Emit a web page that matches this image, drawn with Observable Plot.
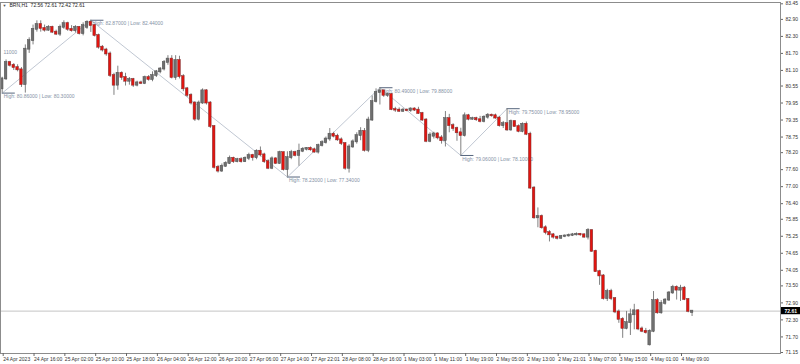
<!DOCTYPE html>
<html><head><meta charset="utf-8">
<script src="https://cdn.jsdelivr.net/npm/d3@7"></script>
<script src="https://cdn.jsdelivr.net/npm/@observablehq/plot@0.6"></script>
<style>
html,body{margin:0;padding:0;background:#fff;}
#chart svg{display:block;}
</style></head><body><div id="chart"></div>
<script>
// ---- data ----
const symbolTitle = "BRN,H1";
const lastBarOHLC = [72.56, 72.61, 72.42, 72.61];

const opens = [80.45,80.80,81.38,81.28,81.20,81.12,80.60,81.85,82.15,82.55,82.72,82.58,82.52,82.62,82.45,82.38,82.62,82.75,82.55,82.50,82.62,82.40,82.62,82.80,82.68,82.33,81.92,81.82,81.68,80.92,80.58,81.00,80.85,80.72,80.78,80.58,80.66,80.64,80.85,80.78,80.92,81.05,81.15,81.38,81.50,80.85,81.45,80.88,80.45,80.22,79.95,79.38,79.95,80.38,79.95,79.12,77.68,77.55,77.72,77.82,78.00,77.88,77.95,77.88,78.00,78.10,78.02,78.25,78.12,77.88,77.65,77.98,77.82,78.20,77.60,78.02,78.20,78.10,78.25,78.32,78.35,78.30,78.22,78.45,78.55,78.68,78.85,78.78,78.65,78.52,77.65,78.40,78.58,78.80,78.95,78.28,79.35,80.00,80.32,80.38,80.22,80.25,79.72,79.70,79.66,79.70,79.68,79.74,79.70,79.58,79.35,78.60,78.78,78.86,78.72,78.62,79.40,79.15,79.05,78.90,78.80,79.50,79.38,79.40,79.36,79.30,79.45,79.52,79.50,79.42,79.15,79.22,79.00,79.30,79.12,78.95,79.20,78.85,76.95,75.90,75.95,75.55,75.38,75.30,75.22,75.18,75.24,75.26,75.28,75.30,75.32,75.30,75.22,75.45,74.72,74.00,73.85,73.05,73.30,73.05,72.58,72.32,72.00,72.20,72.48,72.62,71.98,71.90,71.42,71.90,72.98,72.55,72.88,73.00,73.25,73.45,73.35,73.42,73.02,72.56];
const highs = [80.86,81.47,81.42,81.34,81.30,81.20,82.00,82.25,82.70,82.85,82.85,82.70,82.68,82.66,82.52,82.70,82.85,82.80,82.68,82.68,82.65,82.78,82.85,82.87,82.72,82.38,81.98,81.88,81.75,81.00,81.25,81.05,81.00,80.85,80.82,80.72,80.72,80.90,80.92,81.05,81.10,81.20,81.45,81.62,81.62,81.62,81.60,80.95,80.50,80.28,80.00,80.02,80.45,80.42,80.00,79.15,77.75,77.80,77.88,78.08,78.04,78.00,78.02,78.05,78.18,78.14,78.30,78.40,78.18,77.95,78.05,78.02,78.25,78.22,78.23,78.28,78.25,78.50,78.38,78.38,78.40,78.36,78.50,78.62,78.75,79.05,78.92,78.85,78.72,78.55,78.48,78.65,78.90,79.08,79.05,79.45,80.20,80.45,80.49,80.40,80.30,80.28,79.80,79.78,79.76,79.74,79.78,79.78,79.80,79.62,79.40,78.90,78.92,78.90,78.80,79.65,79.55,79.22,79.10,79.06,79.60,79.55,79.45,79.45,79.48,79.50,79.58,79.56,79.56,79.48,79.30,79.75,79.35,79.32,79.18,79.25,79.28,78.92,77.00,76.25,76.00,75.62,75.45,75.35,75.25,75.28,75.30,75.33,75.35,75.37,75.35,75.34,75.52,75.48,74.76,74.05,73.90,73.38,73.38,73.08,72.65,72.38,72.60,72.68,72.85,72.66,72.05,72.00,71.95,73.30,73.05,72.98,73.05,73.30,73.52,73.50,73.52,73.48,73.05,72.61];
const lows = [80.30,80.75,81.22,81.10,81.05,80.50,80.30,81.70,82.00,82.45,82.45,82.45,82.48,82.40,82.33,82.30,82.55,82.48,82.45,82.42,82.35,82.32,82.55,82.44,82.28,81.85,81.75,81.60,80.85,80.22,80.40,80.75,80.55,80.58,80.50,80.52,80.60,80.60,80.72,80.70,80.85,80.98,81.08,81.28,80.80,80.75,80.80,80.35,80.15,79.88,79.30,79.32,79.90,79.88,79.05,77.62,77.48,77.50,77.68,77.78,77.82,77.84,77.83,77.85,77.92,77.90,77.95,78.05,77.82,77.60,77.60,77.78,77.78,77.55,77.34,77.95,78.05,77.72,78.20,78.26,78.25,78.18,78.15,78.40,78.50,78.60,78.72,78.60,78.45,77.58,77.48,78.35,78.50,78.62,78.22,78.20,79.30,79.95,79.88,80.15,80.15,79.68,79.62,79.62,79.62,79.64,79.62,79.65,79.55,79.30,78.55,78.55,78.68,78.65,78.50,78.40,78.90,78.95,78.60,78.10,78.75,79.32,79.34,79.30,79.25,79.25,79.38,79.45,79.38,79.10,79.05,78.95,78.95,79.10,78.90,78.90,78.80,76.90,75.85,75.55,75.50,75.30,75.05,75.15,75.12,75.14,75.20,75.22,75.24,75.26,75.25,75.18,75.12,74.68,73.98,73.52,73.00,72.95,72.98,72.52,72.18,71.65,71.95,71.75,71.95,71.92,71.85,71.80,71.38,71.85,72.50,72.50,72.82,72.95,73.20,73.00,72.95,72.98,72.55,72.42];
const closes = [80.80,81.38,81.28,81.20,81.12,80.60,81.85,82.15,82.55,82.72,82.58,82.52,82.62,82.45,82.38,82.62,82.75,82.55,82.50,82.62,82.40,82.68,82.80,82.68,82.33,81.92,81.82,81.68,80.92,80.58,81.00,80.85,80.72,80.78,80.58,80.66,80.64,80.85,80.78,80.92,81.05,81.15,81.38,81.50,80.85,81.45,80.88,80.45,80.22,79.95,79.38,79.95,80.38,79.95,79.12,77.68,77.55,77.72,77.82,78.00,77.88,77.95,77.88,78.00,78.10,78.02,78.25,78.12,77.88,77.65,77.98,77.82,78.20,77.60,78.02,78.20,78.10,78.25,78.32,78.35,78.30,78.22,78.45,78.55,78.68,78.85,78.78,78.65,78.52,77.65,78.40,78.58,78.80,78.95,78.28,79.35,80.00,80.32,80.38,80.22,80.25,79.72,79.70,79.66,79.70,79.68,79.74,79.70,79.58,79.35,78.60,78.82,78.86,78.72,78.62,79.40,79.15,79.05,78.90,78.80,79.50,79.38,79.40,79.36,79.30,79.45,79.52,79.50,79.42,79.15,79.22,79.00,79.30,79.12,78.95,79.20,78.85,76.95,75.90,75.95,75.55,75.38,75.30,75.22,75.18,75.24,75.26,75.28,75.30,75.32,75.30,75.22,75.45,74.72,74.00,73.85,73.05,73.30,73.05,72.58,72.32,72.00,72.20,72.48,72.62,71.98,71.90,71.85,71.90,72.98,72.55,72.88,73.00,73.25,73.45,73.35,73.42,73.02,72.60,72.61];

const xTickBars = [0,8,16,24,32,40,48,56,64,72,80,88,96,104,112,120,128,136,144,152,160,168,176];
const xTickLabels = ["24 Apr 2023","24 Apr 16:00","25 Apr 02:00","25 Apr 10:00","25 Apr 18:00","26 Apr 04:00","26 Apr 12:00","26 Apr 20:00","27 Apr 06:00","27 Apr 14:00","27 Apr 22:01","28 Apr 08:00","28 Apr 16:00","1 May 03:00","1 May 11:00","1 May 19:00","2 May 05:00","2 May 13:00","2 May 21:01","3 May 07:00","3 May 15:00","4 May 01:00","4 May 09:00"];
const yTickValues = [83.45,82.90,82.30,81.70,81.10,80.55,79.95,79.35,78.75,78.20,77.60,77.00,76.40,75.85,75.25,74.65,74.05,73.50,72.90,72.30,71.70,71.15];

const zigzagBars = [0,23,74,98,119,131];
const zigzagPrices = [80.30,82.87,77.34,80.49,78.10,79.75];
const zigzagLabels = ["High: 80.86000 | Low: 80.30000","High: 82.87000 | Low: 82.44000","High: 78.23000 | Low: 77.34000","High: 80.49000 | Low: 79.88000","High: 79.06000 | Low: 78.10000","High: 79.75000 | Low: 78.95000"];
const stubLabel = "11000";
const stubPrice = 81.72;

// ---- build ----
const bars = opens.map((o, i) => ({i, open: o, high: highs[i], low: lows[i], close: closes[i]}));
const bull = bars.filter(d => d.close >= d.open);
const bear = bars.filter(d => d.close < d.open);
const zig = zigzagBars.map((b, k) => ({bar: b, price: zigzagPrices[k], label: zigzagLabels[k]}));
const lastClose = lastBarOHLC[3];
const titleText = `${symbolTitle}  ${lastBarOHLC.map(v => v.toFixed(2)).join(" ")}`;

const W = 800, H = 364;
const barPx = 3.854, firstPx = 1.7, plotRight = 780;
const xDomain = [-firstPx / barPx, (plotRight - firstPx) / barPx];
const yDomain = [71.115, 83.496];
const font = "'Liberation Sans', Arial, sans-serif";
const annColor = "#8592a6";
const bodyHalf = 0.34;

const priceBox = (index, scales, values, dims) => {
  const y = scales.y(lastClose);
  const g = d3.create("svg:g");
  g.append("rect")
    .attr("x", dims.width - dims.marginRight + 1)
    .attr("y", y - 3.6)
    .attr("width", dims.marginRight - 1)
    .attr("height", 7.2)
    .attr("fill", "#000");
  return g.node();
};

const chart = Plot.plot({
  width: W, height: H,
  marginLeft: 0, marginRight: W - plotRight, marginTop: 2, marginBottom: 11,
  style: {fontFamily: font, background: "#fff", overflow: "visible"},
  x: {type: "linear", domain: xDomain, axis: null},
  y: {type: "linear", domain: yDomain, axis: null},
  marks: [
    Plot.ruleY([lastClose], {stroke: "#c4c4c4", strokeWidth: 1}),
    Plot.line(zig, {x: "bar", y: "price", stroke: "#b9c1cd", strokeWidth: 0.9}),
    Plot.ruleY(zig, {y: "price", x1: "bar", x2: d => d.bar + 3.4, stroke: "#56657d", strokeWidth: 1}),
    Plot.text(zig, {x: "bar", y: "price", text: "label", textAnchor: "start", lineAnchor: "top", dx: 1.5, dy: 1.5, fontSize: 5, fill: annColor}),
    Plot.text([stubLabel], {y: () => stubPrice, frameAnchor: "left", text: d => d, textAnchor: "start", dx: 3, fontSize: 5, fill: annColor}),
    Plot.ruleX(bars, {x: "i", y1: "low", y2: "high", stroke: "#808080", strokeWidth: 1}),
    Plot.rect(bull, {x1: d => d.i - bodyHalf, x2: d => d.i + bodyHalf, y1: "open", y2: "close", fill: "#6f6f6f", stroke: "#4f4f4f", strokeWidth: 0.5, insetTop: -0.5, insetBottom: -0.5}),
    Plot.rect(bear, {x1: d => d.i - bodyHalf, x2: d => d.i + bodyHalf, y1: "open", y2: "close", fill: "#e3140f", stroke: "#7a3030", strokeWidth: 0.5, insetTop: -0.5, insetBottom: -0.5}),
    Plot.frame({stroke: "#8c8c8c", strokeWidth: 1}),
    Plot.axisY(yTickValues, {anchor: "right", tickSize: 2, tickPadding: 3, fontSize: 5, tickFormat: d => d.toFixed(2), color: "#333", stroke: "#666"}),
    Plot.axisX(xTickBars, {anchor: "bottom", tickSize: 3, tickPadding: 1, fontSize: 5, tickFormat: d => xTickLabels[xTickBars.indexOf(d)], textAnchor: "start", dx: 1, color: "#333", stroke: "#666"}),
    priceBox,
    Plot.text([lastClose], {y: d => d, frameAnchor: "right", text: d => d.toFixed(2), textAnchor: "start", dx: 4, fontSize: 5, fill: "#fff", fontWeight: "bold"}),
    Plot.text(["\u25BC"], {frameAnchor: "top-left", text: d => d, dx: 2, dy: 3, lineAnchor: "middle", textAnchor: "start", fontSize: 4, fill: "#555"}),
    Plot.text([titleText], {frameAnchor: "top-left", text: d => d, dx: 9, dy: 3, lineAnchor: "middle", textAnchor: "start", fontSize: 5, fill: "#222"})
  ]
});
document.getElementById("chart").appendChild(chart);
</script>
</body></html>
